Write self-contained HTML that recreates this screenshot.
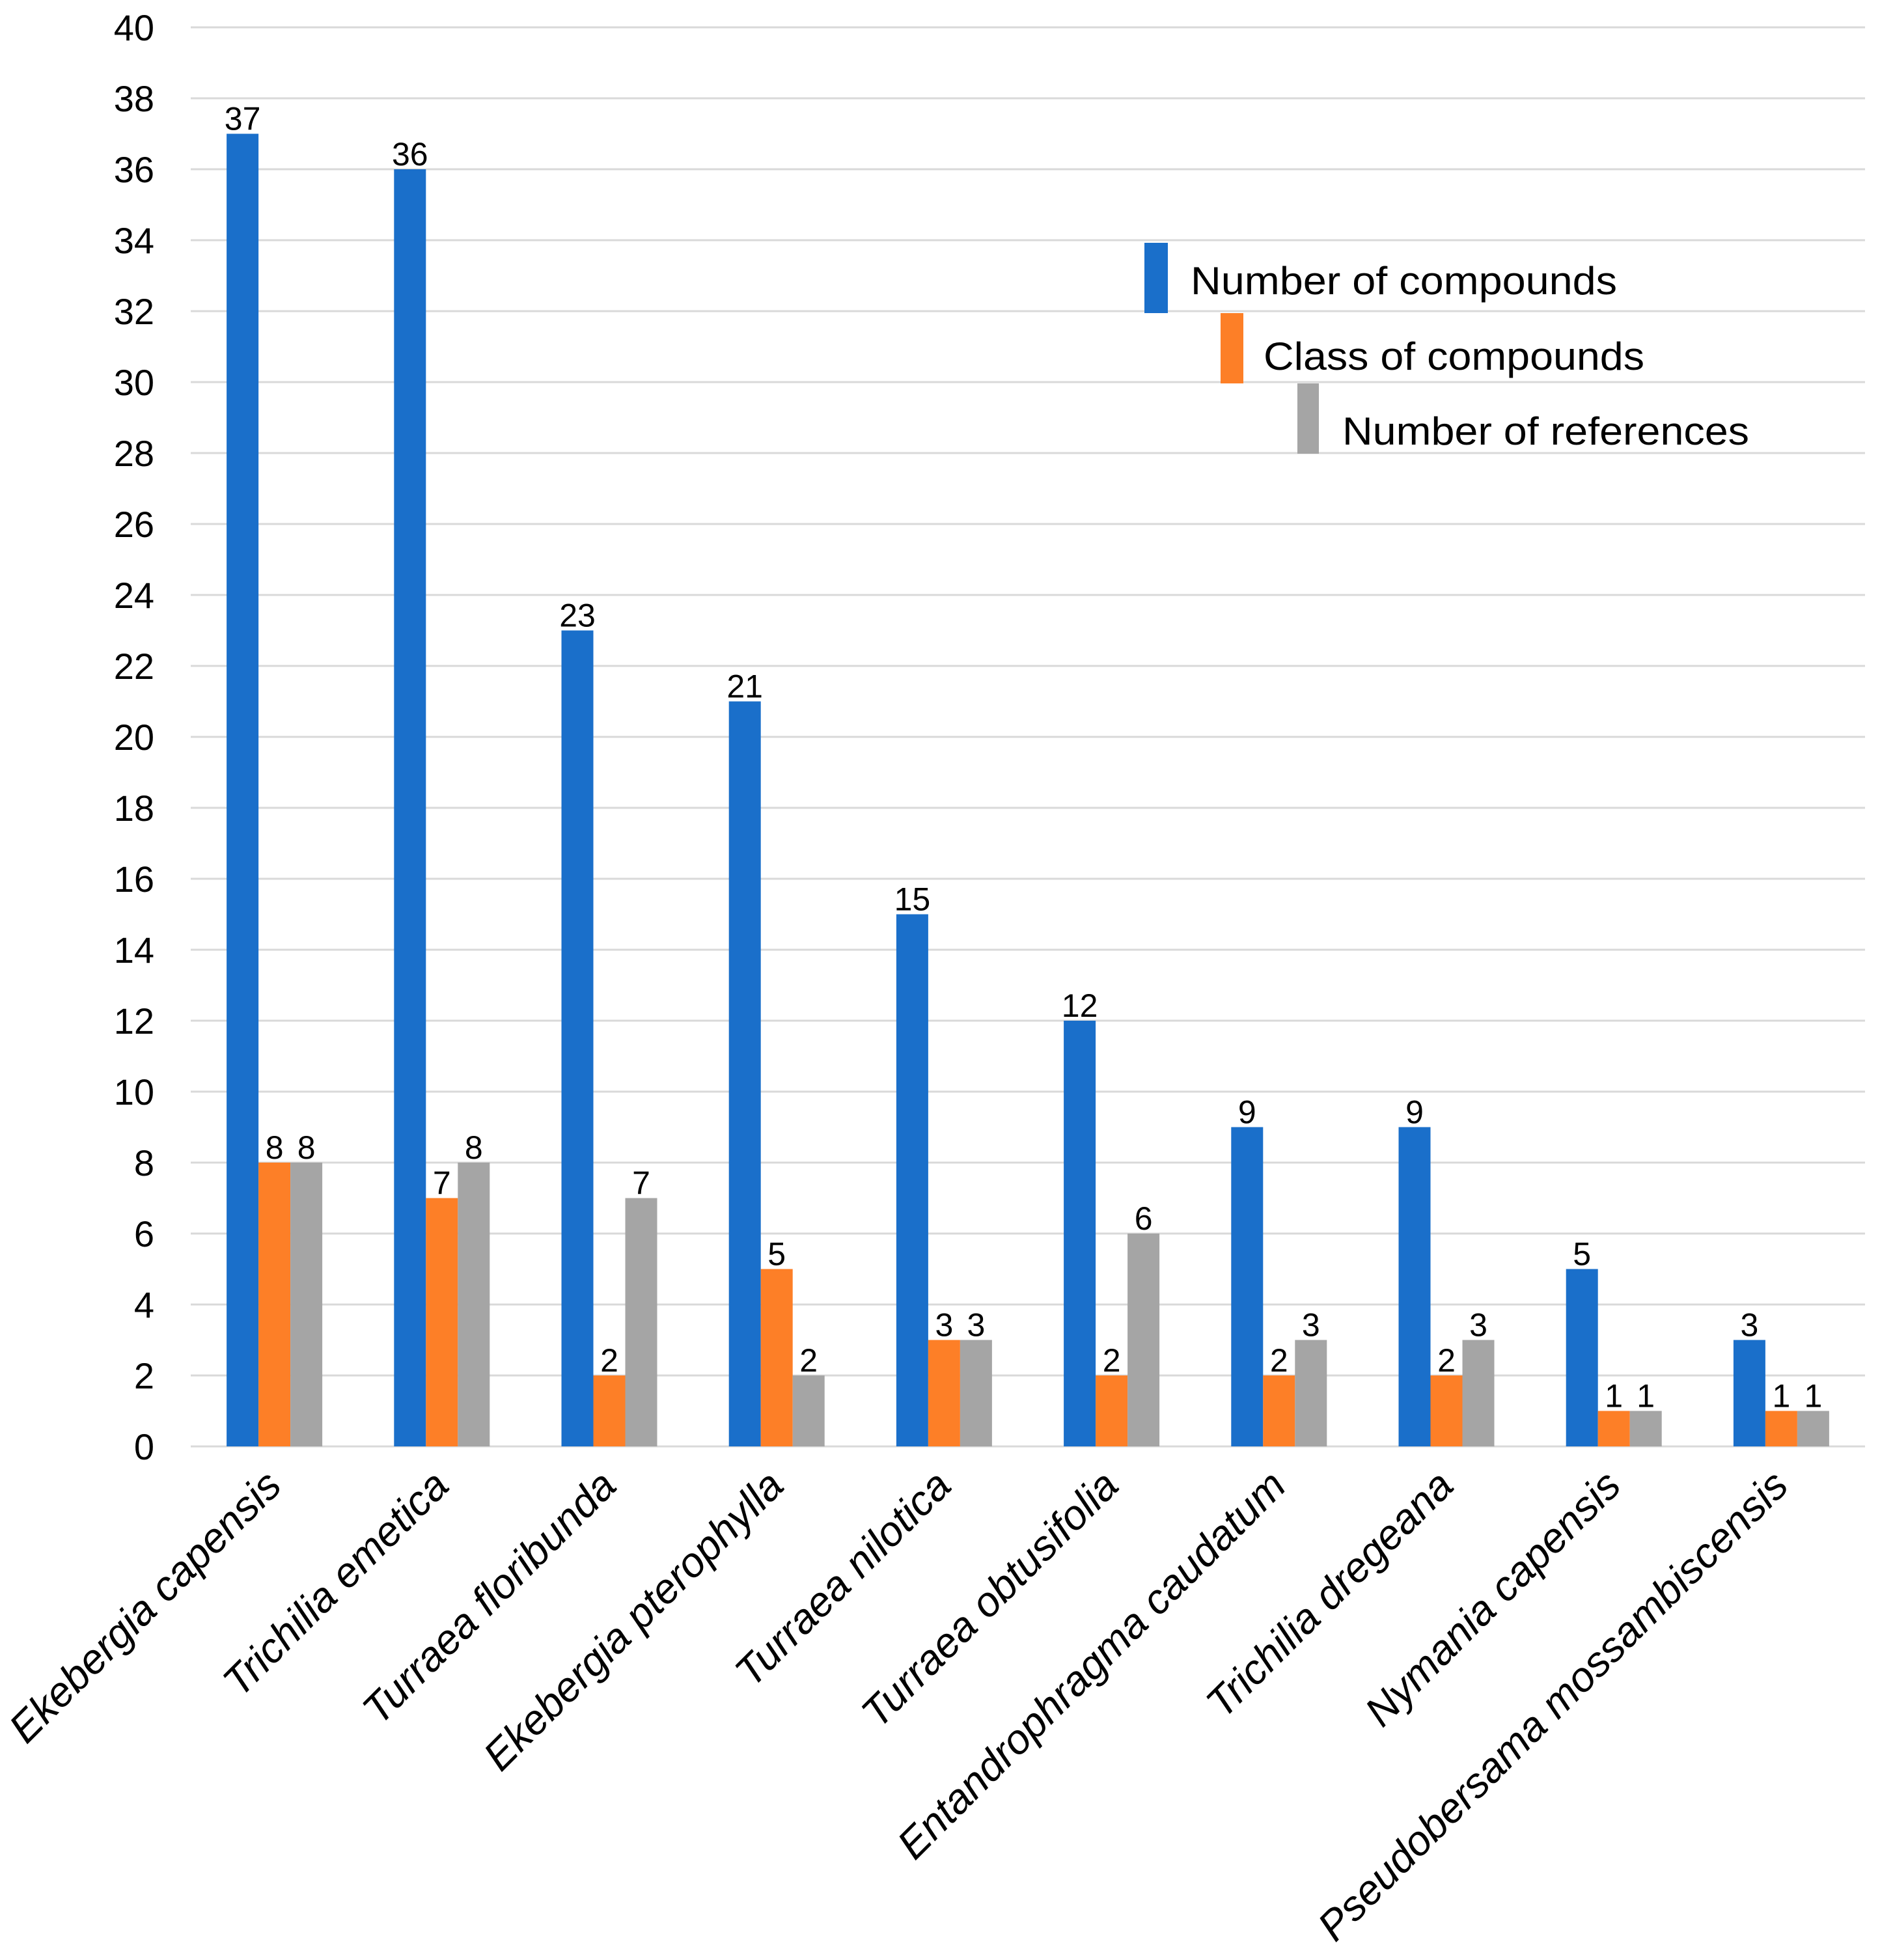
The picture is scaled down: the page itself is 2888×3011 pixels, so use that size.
<!DOCTYPE html>
<html><head><meta charset="utf-8"><style>html,body{margin:0;padding:0;background:#fff}svg{display:block}</style></head>
<body>
<svg id="chart" width="2888" height="3011" xmlns="http://www.w3.org/2000/svg" font-family="Liberation Sans, Arial, sans-serif">
<g id="grid"></g>
<g id="yaxis"></g>
<g id="bars"></g>
<g id="labels"></g>
<g id="xaxis"></g>
<g>
  <rect x="1758" y="373" width="36" height="108" fill="#1a6fca"/>
  <text x="1829" y="452" font-size="60" textLength="655" lengthAdjust="spacingAndGlyphs">Number of compounds</text>
  <rect x="1875" y="481" width="35" height="108" fill="#fd7f27"/>
  <text x="1941" y="568" font-size="60" textLength="585" lengthAdjust="spacingAndGlyphs">Class of compounds</text>
  <rect x="1993" y="589" width="33" height="108" fill="#a5a5a5"/>
  <text x="2062" y="683" font-size="60" textLength="625" lengthAdjust="spacingAndGlyphs">Number of references</text>
</g>
</svg>
<script>
const categories = ["Ekebergia capensis","Trichilia emetica","Turraea floribunda","Ekebergia pterophylla","Turraea nilotica","Turraea obtusifolia","Entandrophragma caudatum","Trichilia dregeana","Nymania capensis","Pseudobersama mossambiscensis"];
const compounds = [37,36,23,21,15,12,9,9,5,3];
const classes = [8,7,2,5,3,2,2,2,1,1];
const references = [8,8,7,2,3,6,3,3,1,1];
const yTicks = [0,2,4,6,8,10,12,14,16,18,20,22,24,26,28,30,32,34,36,38,40];

const NS="http://www.w3.org/2000/svg";
const X0=293, X1=2865, Y0=2222, Y40=42;
const yScale=v=>Y0-(v/40)*(Y0-Y40);
const band=(X1-X0)/categories.length;
const xCenter=i=>X0+band*(i+0.5);
const BW=49;
function mk(tag,attrs,parent){const e=document.createElementNS(NS,tag);for(const k in attrs)e.setAttribute(k,attrs[k]);parent.appendChild(e);return e;}
const grid=document.getElementById('grid'), yaxis=document.getElementById('yaxis'), bars=document.getElementById('bars'), labels=document.getElementById('labels'), xaxis=document.getElementById('xaxis');
yTicks.forEach(t=>{
  const l=mk('line',{x1:X0,x2:X1,y1:yScale(t),y2:yScale(t),stroke:'#d9d9d9','stroke-width':3},grid);
  
  
  const tx=mk('text',{x:237,y:yScale(t)+20,'font-size':56,'text-anchor':'end',fill:'#000'},yaxis);
  tx.textContent=t;
  
  
});
const series=[[compounds,'#1a6fca','compounds'],[classes,'#fd7f27','class'],[references,'#a5a5a5','references']];
categories.forEach((c,i)=>{
  series.forEach(([vals,col,nm],s)=>{
    const x=xCenter(i)-1.5*BW+s*BW, y=yScale(vals[i]);
    const r=mk('rect',{x:x,y:y,width:BW,height:Y0-y,fill:col},bars);
    
    
    const t=mk('text',{x:x+BW/2,y:y-6,'font-size':50,'text-anchor':'middle',fill:'#000'},labels);
    t.textContent=vals[i];
    
    
  });
  const cx=xCenter(i)+14, cy=2286;
  const t=mk('text',{x:cx,y:cy,'font-size':64,'font-style':'italic','text-anchor':'end',transform:`rotate(-45 ${cx} ${cy})`,fill:'#000'},xaxis);
  t.textContent=c;
  
  
});
</script>
</body></html>
